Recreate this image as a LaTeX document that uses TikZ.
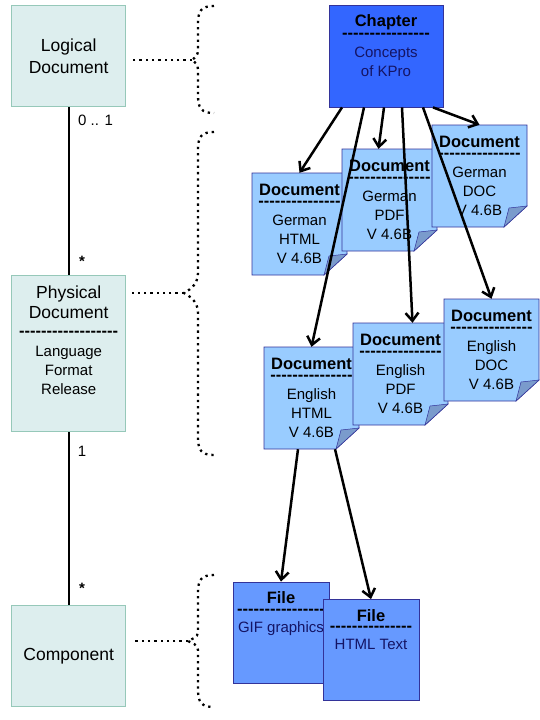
\documentclass[tikz,border=0pt]{standalone}
\usepackage{fontspec}
\setmainfont{Liberation Sans}
\usetikzlibrary{arrows.meta,positioning}

\definecolor{classfill}{RGB}{221,238,238}
\definecolor{classedge}{RGB}{150,200,185}
\definecolor{chapfill}{RGB}{51,102,255}
\definecolor{notefill}{RGB}{153,204,255}
\definecolor{foldfill}{RGB}{122,155,204}
\definecolor{filefill}{RGB}{102,153,255}
\definecolor{inkedge}{RGB}{51,51,153}
\definecolor{navytext}{RGB}{20,20,100}

% row of bold hyphens under a title
\newcommand{\dashrow}[1]{{\fontsize{16.5}{19}\selectfont\bfseries\foreach \dashi in {1,...,#1}{-\kern0pt}}}
\newcommand{\clsname}[1]{{\fontsize{17.5}{20}\selectfont #1}}
\newcommand{\boxtitle}[1]{{\fontsize{16.5}{19}\selectfont\bfseries #1}}

% dotted curly brace: top, tip y, bottom, tip x, tip half height
\newcommand{\dotbrace}[5]{%
  \draw[dotline] (214,#1) .. controls (201,#1) and (198,#1+5) .. (198,#1+18)
    -- (198,#2-#5) .. controls (198,#2-#5/3) and (#4+3,#2-2) .. (#4,#2)
    .. controls (#4+3,#2+2) and (198,#2+#5/3) .. (198,#2+#5)
    -- (198,#3-18) .. controls (198,#3-5) and (201,#3) .. (214,#3);}

% paper note with folded corner: name, left, top, language, format
\newcommand{\docnote}[5]{%
  \begin{scope}[shift={(#2,#3)}]
    \filldraw[notepaper] (0,0) -- (95,0) -- (95,81) -- (72,102) -- (0,102) -- cycle;
    \filldraw[notefold] (72,102) .. controls (74,93) .. (77,83) -- (95,81) -- cycle;
    \node[notebox] (#1) at (47.5,51)
      {\boxtitle{Document}\\[-8.5pt]\dashrow{15}\\[0pt]#4\\#5\\V 4.6B};
  \end{scope}}

\begin{document}
\begin{tikzpicture}[x=1pt, y=-1pt,
  classbox/.style={draw=classedge, fill=classfill, line width=0.8pt, minimum width=114pt,
    inner sep=0pt, align=center, font=\fontsize{15}{20}\selectfont},
  chapbox/.style={draw=inkedge, fill=chapfill, line width=0.8pt, minimum width=114pt, minimum height=102pt},
  filebox/.style={draw=inkedge, fill=filefill, line width=0.8pt, minimum width=96pt, minimum height=101pt},
  notepaper/.style={draw=inkedge, fill=notefill, line width=0.8pt},
  notefold/.style={draw=inkedge, fill=foldfill, line width=0.5pt},
  notebox/.style={minimum width=95pt, minimum height=102pt, inner sep=0pt, align=center,
    font=\fontsize{15}{19}\selectfont},
  cardtext/.style={inner sep=0pt, align=center, font=\fontsize{15}{19}\selectfont},
  mult/.style={inner sep=0pt, font=\fontsize{15}{18}\selectfont},
  assoc/.style={line width=2pt},
  dotline/.style={line width=2.3pt, dash pattern=on 2.3pt off 4pt},
  arr/.style={line width=2.5pt, -{Straight Barb[length=8pt,width=13pt]}}]

  \useasboundingbox (0,0) rectangle (540,720);

  % class boxes on the left
  \node[classbox, minimum height=101pt] (logical) at (68.7,56.3)
    {\clsname{Logical}\\[2pt]\clsname{Document}};
  \node[classbox, minimum height=156pt] (physical) at (68.7,353.7) {};
  \node[cardtext, below=10pt of physical.north] (physicaltext)
    {\clsname{Physical}\\[1pt]\clsname{Document}\\[-0.7pt]\dashrow{18}\\[0.8pt]Language\\Format\\Release};
  \node[classbox, minimum height=101pt] (component) at (68.7,656.3) {\clsname{Component}};

  % associations and multiplicities
  \draw[assoc] (logical) -- (physical);
  \draw[assoc] (physical) -- (component);
  \node[mult] (multA) at (95.5,120) {0 .. 1};
  \node[mult] (multB) at (82,261) {\textbf{*}};
  \node[mult] (multC) at (82,451) {1};
  \node[mult] (multD) at (82,588) {\textbf{*}};

  % dotted braces
  \coordinate (tipA) at (192,60);
  \coordinate (tipB) at (184,293);
  \coordinate (tipC) at (188,641);
  \dotbrace{6}{60}{113}{192}{11}
  \dotbrace{132}{293}{455}{184}{20}
  \dotbrace{575}{641}{707}{188}{9}
  \draw[dotline, shorten >=6pt] (tipA) -- (tipA -| logical.east);
  \draw[dotline, shorten >=6pt] (tipB) -- (tipB -| physical.east);
  \draw[dotline, shorten >=6pt] (tipC) -- (tipC -| component.east);

  % chapter
  \node[chapbox] (chapter) at (386,56) {};
  \node[cardtext, below=10pt of chapter.north] (chaptertext)
    {\boxtitle{Chapter}\\[-7.3pt]\dashrow{16}\\[-0.2pt]\textcolor{navytext}{Concepts}\\\textcolor{navytext}{of KPro}};

  % physical documents
  \docnote{ghtml}{252}{173}{German}{HTML}
  \docnote{gpdf}{342}{149}{German}{PDF}
  \docnote{gdoc}{432}{125}{German}{DOC}
  \docnote{ehtml}{264}{347}{English}{HTML}
  \docnote{epdf}{353}{323}{English}{PDF}
  \docnote{edoc}{444}{299}{English}{DOC}

  % components
  \node[filebox] (gif) at (281,632.5) {};
  \node[cardtext, below=10pt of gif.north] (giftext)
    {\boxtitle{File}\\[-8.3pt]\dashrow{16}\\[-1.2pt]\textcolor{navytext}{GIF graphics}};
  \node[filebox] (htmltext) at (371,650) {};
  \node[cardtext, below=10pt of htmltext.north] (htmltextlabel)
    {\boxtitle{File}\\[-8.3pt]\dashrow{15}\\[-1.2pt]\textcolor{navytext}{HTML Text}};

  % links
  \draw[arr] ([xshift=-44pt]chapter.south) -- (ghtml.north);
  \draw[arr] ([xshift=-22pt]chapter.south) -- (ehtml.north);
  \draw[arr] ([xshift=-2pt]chapter.south) -- ([xshift=-11pt]gpdf.north);
  \draw[arr] ([xshift=16pt]chapter.south) -- ([xshift=12pt]epdf.north);
  \draw[arr] ([xshift=37pt]chapter.south) -- (edoc.north);
  \draw[arr] ([xshift=47pt]chapter.south) -- (gdoc.north);
  \draw[arr] ([xshift=-13.5pt]ehtml.south) -- (gif.north);
  \draw[arr] ([xshift=23.5pt]ehtml.south) -- (htmltext.north);
\end{tikzpicture}
\end{document}
